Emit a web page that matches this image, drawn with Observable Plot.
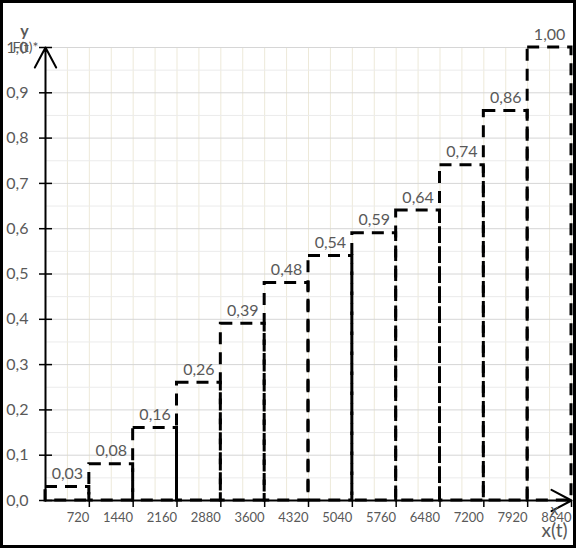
<!DOCTYPE html>
<html>
<head>
<meta charset="utf-8">
<script src="https://cdn.jsdelivr.net/npm/d3@7"></script>
<script src="https://cdn.jsdelivr.net/npm/@observablehq/plot@0.6"></script>
<style>
  body { margin: 0; background: #fff; }
  svg { display: block; }
</style>
</head>
<body>
<div id="chart"></div>
<script>
// Data
const binStart = [0, 720, 1440, 2160, 2880, 3600, 4320, 5040, 5760, 6480, 7200, 7920];
const binEnd   = [720, 1440, 2160, 2880, 3600, 4320, 5040, 5760, 6480, 7200, 7920, 8640];
const values   = [0.03, 0.08, 0.16, 0.26, 0.39, 0.48, 0.54, 0.59, 0.64, 0.74, 0.86, 1.00];
const xTicks   = [720, 1440, 2160, 2880, 3600, 4320, 5040, 5760, 6480, 7200, 7920, 8640];
const yTicks   = [0, 0.1, 0.2, 0.3, 0.4, 0.5, 0.6, 0.7, 0.8, 0.9, 1.0];

const bins = values.map((v, i) => ({x1: binStart[i], x2: binEnd[i], v}));
const xGrid = d3.range(360, 8640 + 1, 360);
const yMinor = d3.range(0.05, 1.0001, 0.1);
const yMajor = d3.range(0.1, 1.0001, 0.1);

const gray = "#595959";
const font = "Lato, 'Open Sans', sans-serif";

const chart = Plot.plot({
  width: 576,
  height: 548,
  marginLeft: 45,
  marginRight: 5,
  marginTop: 47,
  marginBottom: 48,
  style: {fontFamily: font, color: gray, background: "#fff"},
  x: {domain: [0, 8640]},
  y: {domain: [0, 1]},
  marks: [
    Plot.ruleX(xGrid, {stroke: "#ede9d9", strokeWidth: 1}),
    Plot.ruleY(yMinor, {stroke: "#ebebeb", strokeWidth: 1}),
    Plot.ruleY(yMajor, {stroke: "#d6d6d6", strokeWidth: 1}),
    Plot.rect(bins, {
      x1: "x1", x2: "x2", y1: 0, y2: "v",
      fill: "none", stroke: "black", strokeWidth: 3, strokeDasharray: "12,8"
    }),
    Plot.arrow([{a: 0, b: 0, c: 0, d: 1}], {
      x1: "a", y1: "b", x2: "c", y2: "d", stroke: "black", strokeWidth: 2,
      headAngle: 56, headLength: 17
    }),
    Plot.arrow([{a: 0, b: 0, c: 8640, d: 0}], {
      x1: "a", y1: "b", x2: "c", y2: "d", stroke: "black", strokeWidth: 2,
      headAngle: 56, headLength: 17
    }),
    // y ticks crossing the axis
    Plot.axisY({ticks: yTicks, tickSize: 13, dx: 7, tickFormat: () => "", stroke: "black", strokeWidth: 1.5}),
    Plot.axisY({ticks: yTicks, tickSize: 0, tickPadding: 17, fontSize: 16, fill: gray,
      tickFormat: d => d.toFixed(1).replace(".", ",")}),
    // x ticks
    Plot.axisX({ticks: xTicks, tickSize: 7, tickFormat: () => "", stroke: "black", strokeWidth: 1.5}),
    Plot.axisX({ticks: xTicks, tickSize: 0, tickPadding: 12, fontSize: 13, fill: gray, textAnchor: "end",
      tickFormat: d => String(d)}),
    // value labels
    Plot.text(bins, {
      x: d => (d.x1 + d.x2) / 2, y: "v", text: d => d.v.toFixed(2).replace(".", ","),
      dy: -8, lineAnchor: "bottom", fontSize: 16, fill: gray
    }),
    // axis names
    Plot.text(["y"], {frameAnchor: "top-left", dx: -21, dy: -17, text: d => d, fontSize: 16, fontWeight: "bold", fill: gray, textAnchor: "middle", lineAnchor: "middle"}),
    Plot.text(["F(t)*"], {frameAnchor: "top-left", dx: -20, dy: 0, text: d => d, fontSize: 14, fill: gray, textAnchor: "middle", lineAnchor: "middle"}),
    Plot.text(["x"], {frameAnchor: "bottom-right", dx: -17, dy: 9, text: d => d, fontSize: 16, fill: gray, textAnchor: "middle", lineAnchor: "middle"}),
    Plot.text(["x(t)"], {frameAnchor: "bottom-right", dx: -17, dy: 30, text: d => d, fontSize: 19, fill: gray, textAnchor: "middle", lineAnchor: "middle"})
  ]
});

d3.select(chart).append("rect")
  .attr("x", 1.5).attr("y", 1.5).attr("width", 573).attr("height", 545)
  .attr("fill", "none").attr("stroke", "black").attr("stroke-width", 3);

document.getElementById("chart").appendChild(chart);
</script>
</body>
</html>
